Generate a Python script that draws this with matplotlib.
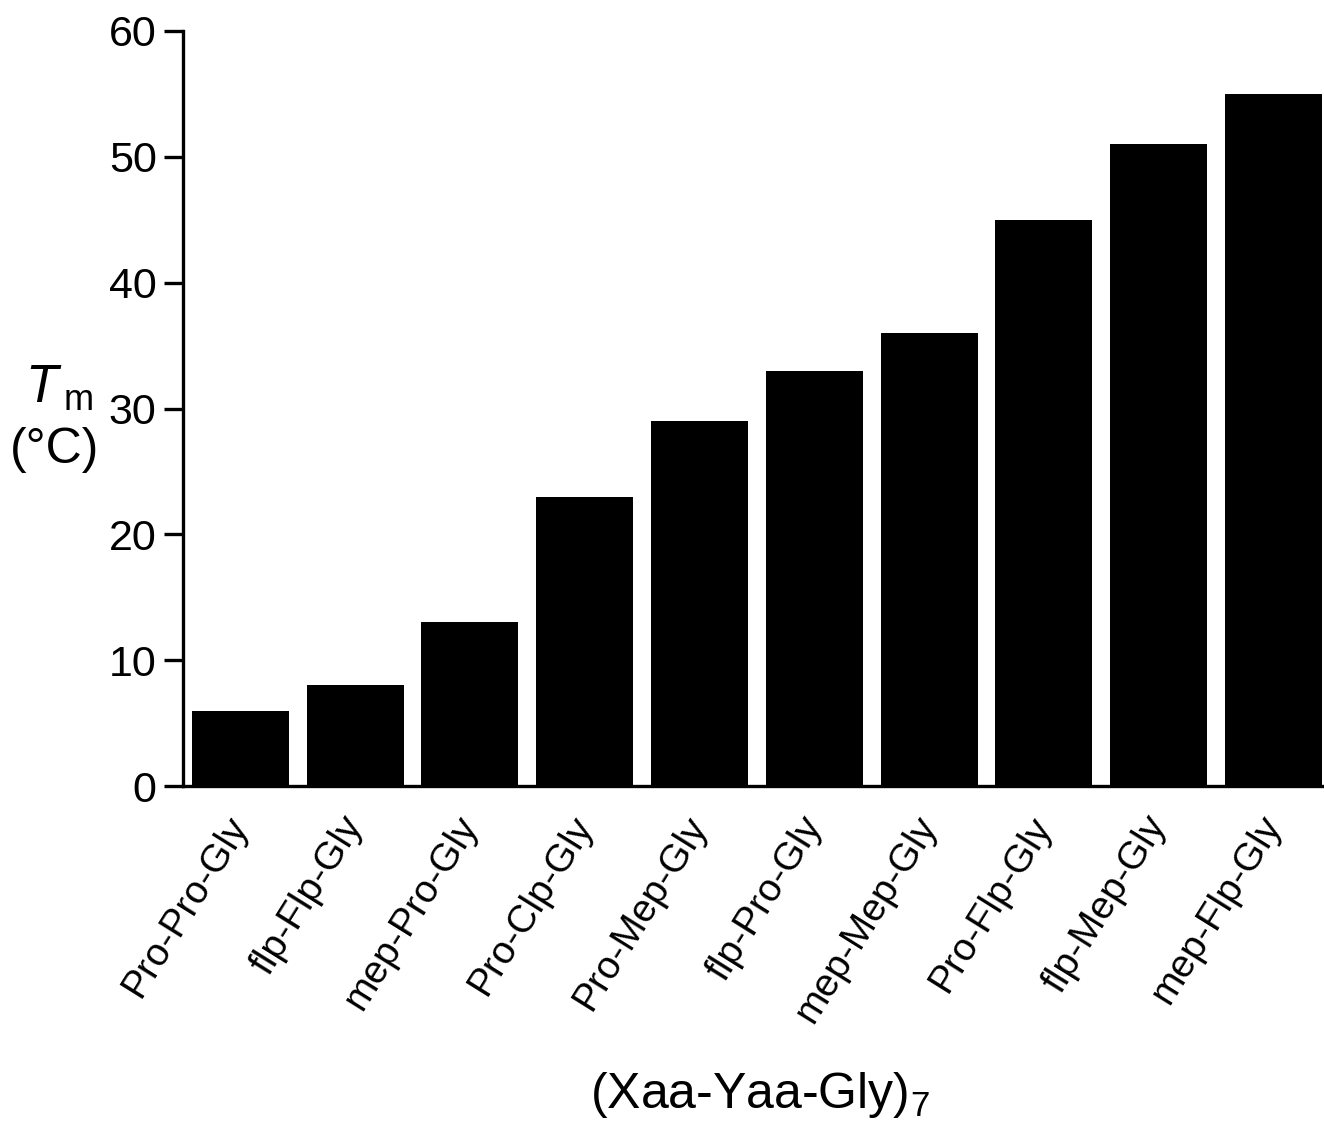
import matplotlib
matplotlib.use("Agg")
import matplotlib.pyplot as plt

categories = ["Pro-Pro-Gly", "flp-Flp-Gly", "mep-Pro-Gly", "Pro-Clp-Gly", "Pro-Mep-Gly",
              "flp-Pro-Gly", "mep-Mep-Gly", "Pro-Flp-Gly", "flp-Mep-Gly", "mep-Flp-Gly"]
tm_values = [6, 8, 13, 23, 29, 33, 36, 45, 51, 55]
yticks = [0, 10, 20, 30, 40, 50, 60]

plt.rcParams['font.family'] = ['Liberation Sans', 'DejaVu Sans']
plt.rcParams['mathtext.fontset'] = 'custom'
plt.rcParams['mathtext.rm'] = 'Liberation Sans'
plt.rcParams['mathtext.it'] = 'Liberation Sans:italic'

fig = plt.figure(figsize=(13.24, 11.21), dpi=100)
ax = fig.add_axes([183/1324, 335/1121, 1 - 183/1324, (786-31)/1121])

x = list(range(len(categories)))
ax.bar(x, tm_values, width=0.845, color='black', edgecolor='black', linewidth=0)
ax.set_xlim(-0.5, 9.44)
ax.set_ylim(0, 60)
ax.set_yticks(yticks)
ax.set_yticklabels([str(v) for v in yticks], fontsize=31)
ax.set_xticks(x)
ax.set_xticklabels(categories, fontsize=28, rotation=58, ha='right', va='center',
                   rotation_mode='anchor')
ax.tick_params(axis='x', length=0, pad=24)
ax.tick_params(axis='y', length=14, width=2.4, pad=5)
for s in ['top', 'right']:
    ax.spines[s].set_visible(False)
for s in ['left', 'bottom']:
    ax.spines[s].set_linewidth(2.4)

fig.text(62/1324, 1 - 388/1121, "$T$", fontsize=38, ha='right', va='center', style='italic')
fig.text(64/1324, 1 - 400/1121, "m", fontsize=26, ha='left', va='center')
fig.text(55/1324, 1 - 450/1121, "(°C)", fontsize=36, ha='center', va='center')
fig.text(760/1324, 1 - 1095/1121, "(Xaa-Yaa-Gly)$_7$", fontsize=36, ha='center', va='center')

fig.savefig("out.png", dpi=100)
